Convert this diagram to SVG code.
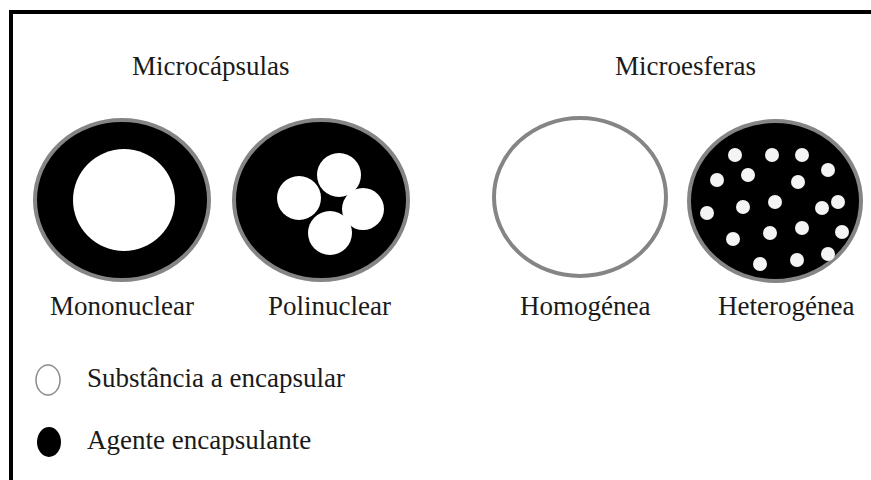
<svg xmlns="http://www.w3.org/2000/svg" width="871" height="480" viewBox="0 0 871 480">
<style>
text{font-family:"Times New Roman","Liberation Serif",Tinos,"Noto Serif","DejaVu Serif",serif;font-size:27px;fill:#1a1a1a}
.shell{fill:#000;stroke:#858585;stroke-width:4}
.empty{fill:#fff;stroke:#858585;stroke-width:4}
.core{fill:#fff}
.dot{fill:#f4f4f4}
</style>
<rect width="871" height="480" fill="#fff"/>
<path d="M11,480V12H871" fill="none" stroke="#000" stroke-width="4"/>
<text x="132" y="75">Microcápsulas</text>
<text x="615" y="75">Microesferas</text>
<g id="mononuclear">
<ellipse class="shell" cx="122" cy="200" rx="87" ry="80"/>
<circle class="core" cx="124" cy="200" r="51"/>
<text x="50" y="315">Mononuclear</text>
</g>
<g id="polinuclear">
<ellipse class="shell" cx="321" cy="200" rx="87" ry="80"/>
<circle class="core" cx="299" cy="198" r="22"/>
<circle class="core" cx="339" cy="175" r="22"/>
<circle class="core" cx="363" cy="209" r="21"/>
<circle class="core" cx="330" cy="233" r="22"/>
<text x="268" y="315">Polinuclear</text>
</g>
<g id="homogenea">
<ellipse class="empty" cx="580" cy="197" rx="86" ry="79"/>
<text x="520" y="315">Homogénea</text>
</g>
<g id="heterogenea">
<ellipse class="shell" cx="775" cy="201" rx="86" ry="80"/>
<circle class="dot" cx="735" cy="155" r="7"/>
<circle class="dot" cx="772" cy="155" r="7"/>
<circle class="dot" cx="802" cy="155" r="7"/>
<circle class="dot" cx="828" cy="170" r="7"/>
<circle class="dot" cx="717" cy="180" r="7"/>
<circle class="dot" cx="748" cy="175" r="7"/>
<circle class="dot" cx="798" cy="182" r="7"/>
<circle class="dot" cx="707" cy="213" r="7"/>
<circle class="dot" cx="743" cy="207" r="7"/>
<circle class="dot" cx="775" cy="202" r="7"/>
<circle class="dot" cx="822" cy="208" r="7"/>
<circle class="dot" cx="838" cy="202" r="7"/>
<circle class="dot" cx="733" cy="239" r="7"/>
<circle class="dot" cx="770" cy="233" r="7"/>
<circle class="dot" cx="802" cy="228" r="7"/>
<circle class="dot" cx="842" cy="232" r="7"/>
<circle class="dot" cx="760" cy="264" r="7"/>
<circle class="dot" cx="797" cy="260" r="7"/>
<circle class="dot" cx="828" cy="254" r="7"/>
<text x="718" y="315">Heterogénea</text>
</g>
<g id="legend-substancia">
<ellipse cx="48" cy="380" rx="12" ry="15" fill="#fff" stroke="#8a8a8a" stroke-width="1.5"/>
<text x="87" y="387">Substância a encapsular</text>
</g>
<g id="legend-agente">
<ellipse cx="49" cy="442" rx="12" ry="15" fill="#000"/>
<text x="87" y="449">Agente encapsulante</text>
</g>
</svg>
